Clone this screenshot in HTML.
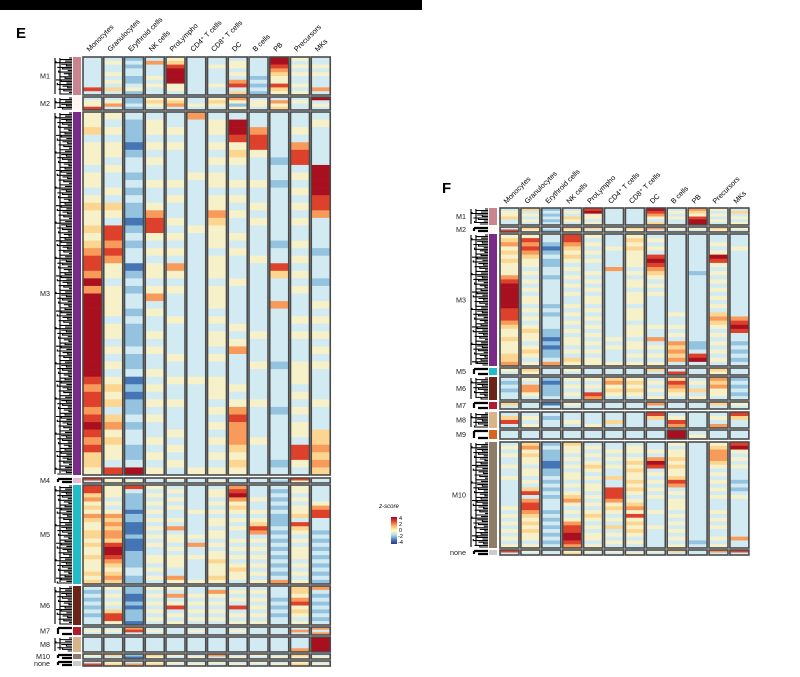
<!DOCTYPE html>
<html><head><meta charset="utf-8"><style>
html,body{margin:0;padding:0;background:#fff;}
svg{display:block;font-family:"Liberation Sans",sans-serif;}
</style></head><body>
<svg id="fig" width="800" height="677" viewBox="0 0 800 677">
<rect x="0" y="0" width="422" height="10" fill="#000"/>
<text x="16" y="38" font-size="15" font-weight="bold">E</text>
<text x="442" y="193" font-size="15" font-weight="bold">F</text>
<g>
<defs><linearGradient id="zg" x1="0" y1="1" x2="0" y2="0">
<stop offset="0" stop-color="#313695"/><stop offset="0.15" stop-color="#4575b4"/><stop offset="0.32" stop-color="#abd9e9"/><stop offset="0.5" stop-color="#ffffbf"/><stop offset="0.68" stop-color="#fdae61"/><stop offset="0.85" stop-color="#e0402a"/><stop offset="1" stop-color="#a50026"/></linearGradient></defs>
<text x="389" y="508" font-size="6" font-style="italic" text-anchor="middle">z-score</text>
<rect x="391" y="517" width="6" height="27" fill="url(#zg)"/>
<text x="399" y="520" font-size="5.5">4</text>
<text x="399" y="526" font-size="5.5">2</text>
<text x="399" y="532" font-size="5.5">0</text>
<text x="398" y="538" font-size="5.5">-2</text>
<text x="398" y="544" font-size="5.5">-4</text>
</g>
</svg>
<script>
// Data arrays
const cellTypes = ["Monocytes","Granulocytes","Erythroid cells","NK cells","ProLympho","CD4\u207A T cells","CD8\u207A T cells","DC","B cells","PB","Precursors","MKs"];
const modulesE = ["M1","M2","M3","M4","M5","M6","M7","M8","M10","none"];
const modulesF = ["M1","M2","M3","M5","M6","M7","M8","M9","M10","none"];
// z-score codes: '0'=-4 ... '4'=0 ... '8'=+4 ('3' ~ -1)
const zE = {
M1:["3333333373","3433434353","2323322342","3633343433","4578888443","3333333333","3343333433","3443436735","3333323232","8876544754","4343433434","3343433363"],
M2:["3447","3463","2232","4543","4563","3343","4543","6424","3443","3645","3433","8343"],
M3:["445344434434544545677686888888888887677678767554","434344343343543776764434444344343434545356454437","322212332323221232331232332322232231212232332238","344343433433467743434434634334343343434343343434","334343333434334343436434333433334334334333434343","633333334333333433333333333333333334333333333334","344343434434465444344434443434434334443434343434","388745433434343343433343333343463333434676665454","336774333433434333343333333334333433334333343333","333333233233333332337533363333333233333233333323","334367734343434334343434333434333444343434437743","343333388887763333233323343434343433334333556565"],
M4:["73","44","34","33","43","33","34","33","33","32","74","33"],
M5:["775645465445545445444545","444343465656657887654565","732222122111211122223322","434343434343434334434343","343434334363443434443364","333333433333436334333334","344343434434434344544454","678645434343343434345443","333433434576343434343434","323232322232323232323236","443434453754343444343434","333346773332323232323232"],
M6:["3232323233","4343435774","2211212221","4343434343","4363473434","3343434343","3643434343","3434373434","3434343434","3332323233","5546745434","6323232323"],
M7:["343","343","673","343","333","343","333","343","333","333","363","636"],
M8:["3333","3333","3333","3333","3333","3333","3333","3333","3333","3333","3336","8888"],
M10:["43","53","21","54","43","34","63","34","43","34","54","34"],
none:["37","45","36","45","43","34","43","34","43","34","45","34"]
};
const zF = {
M1:["344533","534343","232323","343543","784434","333333","333333","876435","343433","654788","434343","353434"],
M2:["37","54","32","54","53","43","54","63","43","43","54","43"],
M3:["45645454446788888877765445444556","47676544343434344343434544345434","33212322332333333232333221212236","77654543434343433434343434434354","43434343343434344343434343434344","33343333633333333333333334343334","45454444343443444344434443443434","34343787654343433333334336343434","33333333333333333334334343656563","33333333323333333333333333223783","33434874343434343435654343434343","33343333333333333333678733232323"],
M5:["43","54","33","43","33","33","33","53","37","33","54","33"],
M6:["323233","436643","212223","434343","434376","564543","454543","343434","576543","343534","656443","232323"],
M7:["53","33","13","43","33","33","33","63","33","33","53","43"],
M8:["3573","3434","3233","3343","3334","3353","3333","7533","3476","3333","3436","7533"],
M9:["33","33","33","33","33","33","33","33","88","34","33","33"],
M10:["3434334334333333343434343434","5645443443435736776545454434","2322211223232323332323232323","5443434344343456434346778876","3434345434344343434543434434","3343434335337776454343534343","3443454544545434564745454343","3343687343434343334333433333","4344545445763434443434343434","3333333333333333333333333323","4566654343434343334343433434","7843434333232343333333333633"],
none:["73","43","33","45","43","43","34","43","53","33","63","73"]
};
// layout (positions, not data)
const palette = ["#313695","#4575b4","#93c3de","#d2eaf2","#f6f1c8","#fcd690","#f89a5a","#de412b","#a80f1f"];
const modColor = {M1:"#c9848f",M2:"#fff7ef",M3:"#7b2a8a",M4:"#ebb8da",M5:"#22bcc8",M6:"#6a2418",M7:"#b01c2e",M8:"#d7b48a",M9:"#d5651f",M10:"#8e7c69",none:"#cccccc"};
const layoutE = {x0:83, pitch:20.75, w:19, strip:73, dendro:55, label:50, labelY:52,
  ext:{M1:[57,95],M2:[97,110],M3:[112,475],M4:[478,483],M5:[485,584],M6:[586,625],M7:[627,635],M8:[637,652],M10:[654,659],none:[661,666]}};
const layoutF = {x0:500, pitch:20.9, w:19, strip:489, dendro:470, label:466, labelY:204,
  ext:{M1:[208,225],M2:[227,232],M3:[234,366],M5:[368,375],M6:[377,400],M7:[402,409],M8:[412,428],M9:[430,439],M10:[442,548],none:[550,555]}};
const NS="http://www.w3.org/2000/svg";
const svg=document.getElementById('fig');
function mk(tag,attrs,parent){const e=document.createElementNS(NS,tag);for(const k in attrs)e.setAttribute(k,attrs[k]);parent.appendChild(e);return e;}
function colX(L,j){return L.x0+j*L.pitch;}
function zColor(ch){return palette[Math.max(0,Math.min(8,parseInt(ch,10)))];}
function drawPanel(L,mods,data,pname){
  const g=mk('g',{},svg);
  
  
  cellTypes.forEach((ct,j)=>{
    const cx=colX(L,j)+L.w/2;
    const t=mk('text',{x:cx-3,y:L.labelY,'font-size':'7.2',transform:`rotate(-45 ${cx-3} ${L.labelY})`},g);
    t.textContent=ct;
    
    
  });
  mods.forEach(m=>{
    const [y0,y1]=L.ext[m];const h=y1-y0;
    const mg=mk('g',{},g);
    
    
    const lb=mk('text',{x:L.label,y:(y0+y1)/2+2.5,'font-size':'7.2','text-anchor':'end',fill:'#222'},mg);
    lb.textContent=m;
    
    
    const st=mk('rect',{x:L.strip,y:y0,width:8,height:h,fill:modColor[m]},mg);
    
    
    const dg=mk('g',{stroke:'#000',fill:'none'},mg);
    
    
    const n=Math.max(3,Math.round(h/1.6));
    const right=L.strip-1;
    let pts='';
    for(let i=0;i<n;i++){const yy=y0+1+(h-2)*i/(n-1);const len=3+((i*7)%11)*1.3;pts+=`M${right} ${yy}H${right-len}`;if(i%2===1){const py=y0+1+(h-2)*(i-1)/(n-1);pts+=`V${py}`;}}
    pts+=`M${right-17} ${y0+1}V${y1-1}M${right-12} ${y0+2}V${y1-2}`;
    if(h<10)pts=`M${right} ${y0+1}H${right-14}M${right} ${y1-1}H${right-10}M${right-14} ${y0+1}V${y1-1}`;
    mk('path',{d:pts,'stroke-width':h<10?'2.2':'1.1'},dg);
    cellTypes.forEach((ct,j)=>{
      const x=colX(L,j);const s=data[m][j];const bh=h/s.length;
      for(let i=0;i<s.length;i++){
        const r=mk('rect',{x:x,y:y0+i*bh,width:L.w,height:bh+0.3,fill:zColor(s[i])},mg);
        
        
      }
      const b=mk('rect',{x:x,y:y0,width:L.w,height:h,fill:'none',stroke:'#4a4a4a','stroke-width':'1.6'},mg);
      
      
    });
  });
}
drawPanel(layoutE,modulesE,zE,'heatmap-panel-e');
drawPanel(layoutF,modulesF,zF,'heatmap-panel-f');
</script>
</body></html>
